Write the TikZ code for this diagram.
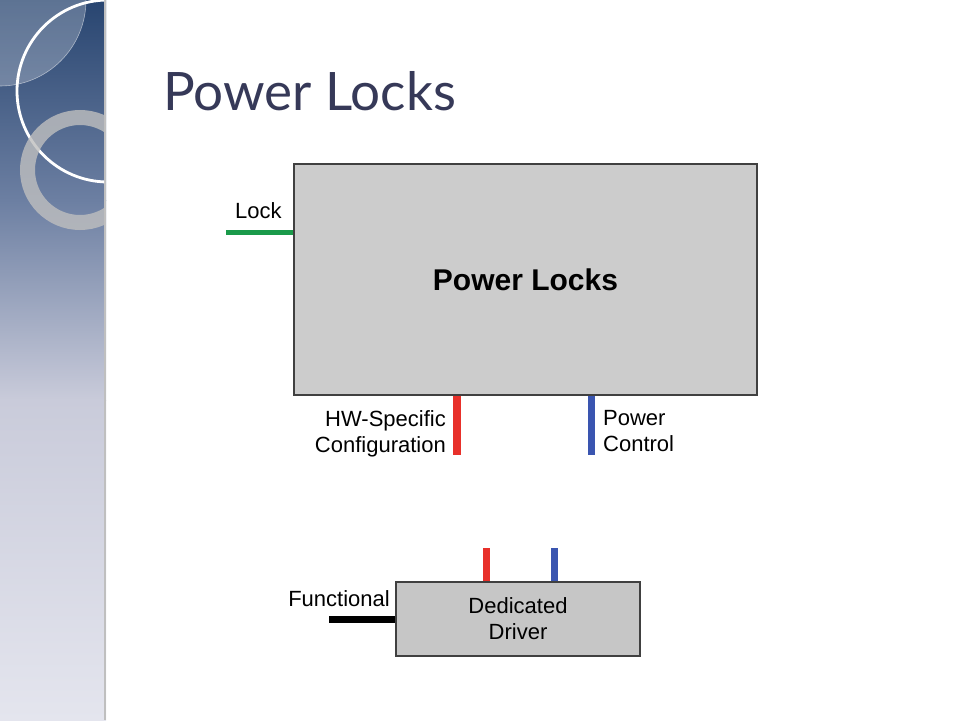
\documentclass[tikz,border=0pt]{standalone}
\usepackage{fontspec}
\setmainfont{Liberation Sans}
\newfontfamily\titlefont{Lato}
\usetikzlibrary{calc,positioning}

\definecolor{sbtop}{HTML}{284570}
\definecolor{sbmid}{HTML}{6C7FA2}
\definecolor{sbup}{HTML}{C9CBDA}
\definecolor{sbbot}{HTML}{E4E5EE}
\definecolor{titlecol}{HTML}{363958}
\definecolor{boxgray}{HTML}{CCCCCC}
\definecolor{lockgreen}{HTML}{1A9A4A}
\definecolor{cfgred}{HTML}{E8302A}
\definecolor{pwrblue}{HTML}{3A55B0}

\tikzset{
  blockbox/.style={draw=black!75, line width=1.3pt, fill=boxgray, inner sep=0pt},
  lbl/.style={inner sep=0pt, font=\fontsize{22}{26}\selectfont},
  wire/.style={line width=#1, line cap=butt}
}

\begin{document}
\begin{tikzpicture}[x=1pt, y=-1pt]
\useasboundingbox (0,0) rectangle (960,720);
\fill[white] (0,0) rectangle (960,720);

%sidebar, shaded in three pieces
\shade[top color=sbtop, bottom color=sbmid] (0,0) rectangle (106,200);
\shade[top color=sbmid, bottom color=sbup] (0,200) rectangle (106,400);
\shade[top color=sbup, bottom color=sbbot] (0,400) rectangle (106,720);
\draw[black!25, line width=1.5pt] (105,0) -- (105,720);
\begin{scope}
  \clip (0,0) rectangle (104,720);
  \fill[white, opacity=0.25] (0,0) -- (86,0) arc[start angle=0, end angle=90, radius=86] -- cycle;
  \draw[white, opacity=0.5, line width=0.6pt] (86,0) arc[start angle=0, end angle=90, radius=86];
  \draw[white, line width=2.8pt] (108,91) circle[radius=91];
  \draw[black!25!white, opacity=0.8, line width=15pt] (80,170) circle[radius=52.5];
\end{scope}

%title
\node[anchor=base west, inner sep=0pt, text=titlecol, font=\titlefont\fontsize{53}{60}\selectfont] (title) at (163,110) {Power Locks};

%the two blocks
\node[blockbox, minimum width=463pt, minimum height=231pt, font=\bfseries\fontsize{30}{34}\selectfont] (locks) at (525.5,279.5) {Power Locks};
\node[blockbox, fill=boxgray!97!black, minimum width=244pt, minimum height=74pt, align=center, font=\fontsize{22}{26}\selectfont] (driver) at (518,619) {Dedicated\\Driver};

%free ends of the wires
\coordinate (lockend) at (226,232);
\coordinate (cfgend) at (457,455);
\coordinate (pwrend) at (591,455);
\coordinate (drvcfg) at (486,548);
\coordinate (drvpwr) at (554,548);
\coordinate (funcend) at (329,619);

\draw[wire=5pt, lockgreen] (lockend) -- (lockend -| locks.west);
\draw[wire=8pt, cfgred] (cfgend |- locks.south) -- (cfgend);
\draw[wire=7pt, pwrblue] (pwrend |- locks.south) -- (pwrend);
\draw[wire=7pt, cfgred] (drvcfg) -- (drvcfg |- driver.north);
\draw[wire=7pt, pwrblue] (drvpwr) -- (drvpwr |- driver.north);
\draw[wire=7pt, black] (funcend) -- (funcend -| driver.west);

%labels
\node[lbl, anchor=base west] (locklbl) at (235,218) {Lock};
\node[lbl, anchor=north east, align=right] (cfglbl) at (446,410) {HW-Specific\\Configuration};
\node[lbl, anchor=north west, align=left] (pwrlbl) at (603,410) {Power\\Control};
\node[lbl, anchor=base east] (funclbl) at (390,606) {Functional};
\end{tikzpicture}
\end{document}
